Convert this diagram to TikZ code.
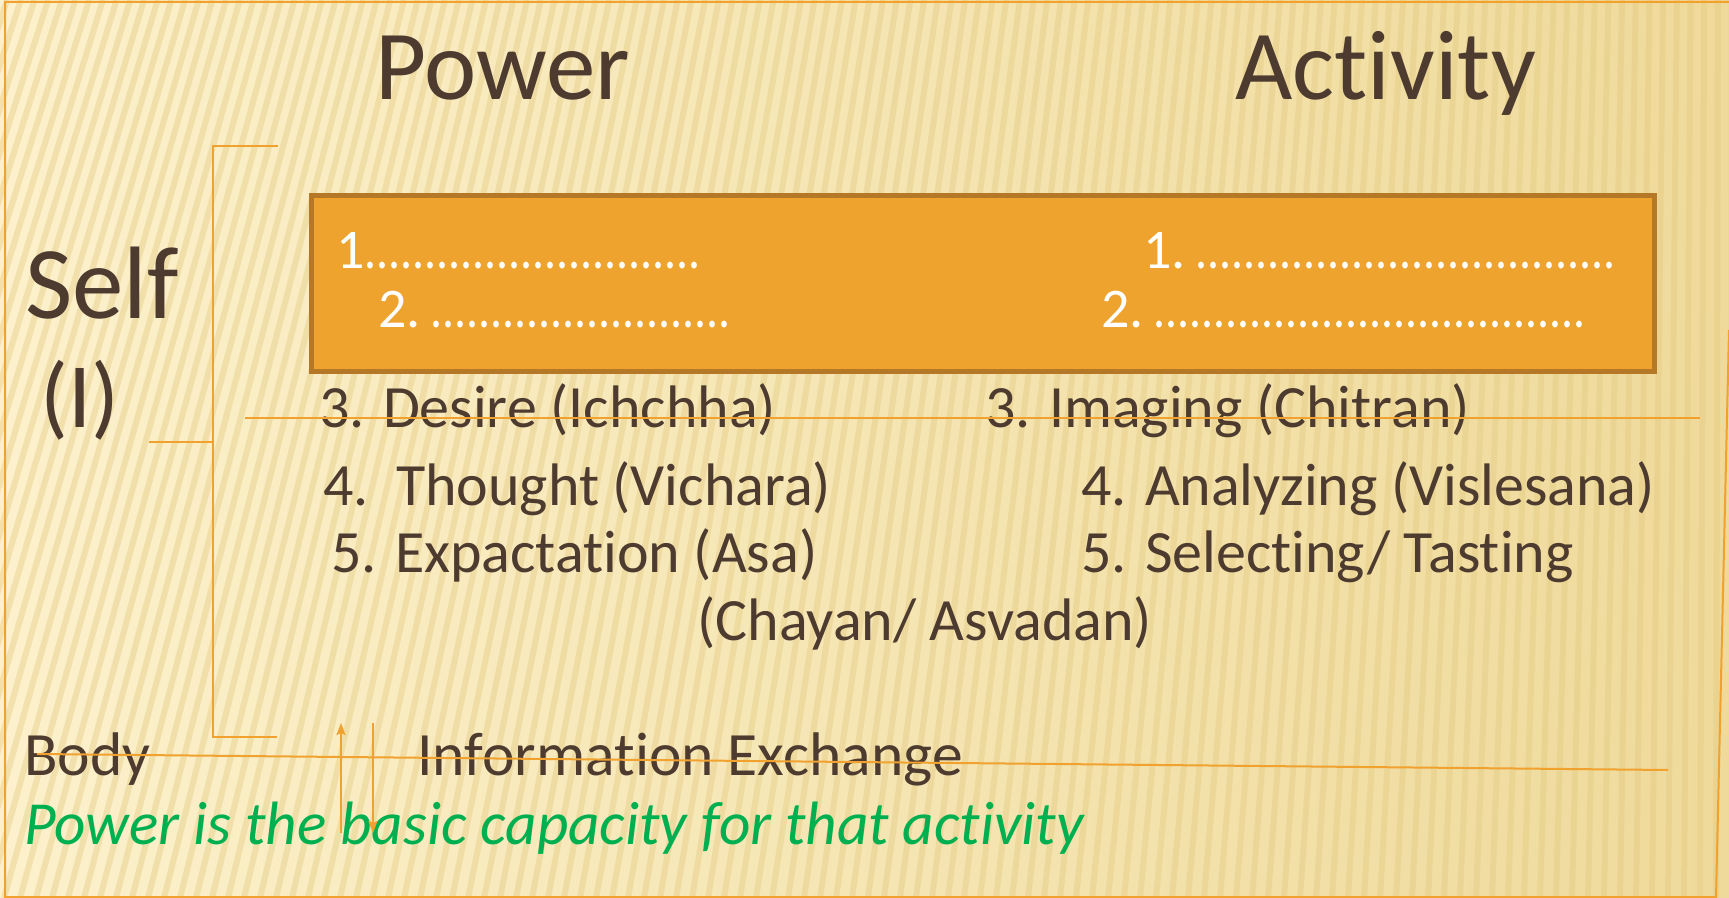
\documentclass[tikz,border=0pt]{standalone}
\usepackage{fontspec}
\usepackage{graphicx}
\setmainfont{Carlito}[Ligatures=NoCommon]
\usetikzlibrary{arrows.meta}
\definecolor{bgl}{HTML}{FCF1CC}
\definecolor{bgr}{HTML}{EFDA9B}
\definecolor{stripec}{HTML}{E3C97F}
\definecolor{frameor}{HTML}{F0A12E}
\definecolor{boxfill}{HTML}{EEA32E}
\definecolor{boxedge}{HTML}{B47826}
\definecolor{txt}{HTML}{4D3B2F}
\definecolor{grn}{HTML}{00B050}
\newcommand\fsz[1]{\fontsize{#1}{#1}\selectfont}
\newcommand\tightdots[1]{\scalebox{0.85}[1]{#1}}
\begin{document}
\begin{tikzpicture}[x=0.5pt,y=-0.5pt,
  lbl/.style={inner sep=0pt, anchor=base west, text=txt},
  title/.style={lbl, font=\fsz{49.5pt}},
  item/.style={lbl, font=\fsz{30pt}},
  lower/.style={lbl, font=\fsz{30.8pt}},
  boxtxt/.style={inner sep=0pt, anchor=base west, text=white, font=\fsz{28pt}},
  orline/.style={draw=frameor, line width=1pt},
  stripe/.style={draw=stripec, line width=3pt, opacity=0.4},
  arrowtip/.style={-{Stealth[length=6pt,width=4.5pt,inset=1pt]}}]
\useasboundingbox (0,0) rectangle (1729,898);
% background
\shade[left color=bgl, right color=bgr] (0,0) rectangle (1729,898);
\begin{scope}
\clip (0,0) rectangle (1729,898);
\foreach \i in {-300,-284,...,1800} \draw[stripe] (\i,898) -- ++({250*(1-\i/1729)},-898);
\end{scope}
% frame
\coordinate (ftl) at (5,2);
\coordinate (ftr) at (1729,2);
\coordinate (fbl) at (5,897);
\coordinate (fbr) at (1716,897);
\coordinate (frt) at (1729,330);
\draw[orline] (ftr) -- (ftl) -- (fbl) -- (fbr) -- (frt);
% titles
\node[title] (power) at (375,100) {Power};
\node[title] (activity) at (1235,100) {Activity};
\node[title, font=\fsz{51.5pt}] (self) at (25,319) {Self};
\node[title, font=\fsz{46pt}] (selfI) at (40,428) {(I)};
% box
\node[draw=boxedge, fill=boxfill, line width=2.5pt, inner sep=0pt,
      minimum width=671.5pt, minimum height=88pt, anchor=north west] (box) at (308.5,193) {};
\node[boxtxt] (b1l) at (336,269) {1\tightdots{............................}};
\node[boxtxt] (b2l) at (378,328) {2.\,\tightdots{.........................}};
\node[boxtxt] (b1r) at (1143,269) {1.\,\tightdots{...................................}};
\node[boxtxt] (b2r) at (1101,328) {2.\,\tightdots{....................................}};
% items
\node[item] (d3) at (319,428) {3. Desire (Ichchha)};
\node[item] (d4) at (323,505) {4.\ \ Thought (Vichara)};
\node[item] (d5) at (331,572) {5. Expactation (Asa)};
\node[item] (i3) at (985,428) {3. Imaging (Chitran)};
\node[item] (i4) at (1081,505) {4. Analyzing (Vislesana)};
\node[item] (i5) at (1081,572) {5. Selecting/ Tasting};
\node[item] (i5b) at (697,640) {(Chayan/ Asvadan)};
% bottom
\node[lower] (body) at (24,775) {Body};
\node[lower] (info) at (417,775) {Information Exchange};
\node[lbl, text=grn, font=\fsz{30.6pt}\itshape] (note) at (24,844) {Power is the basic capacity for that activity};
% bracket
\coordinate (bt1) at (278,146);
\coordinate (bt0) at (213,146);
\coordinate (bb0) at (213,737);
\coordinate (bb1) at (277,737);
\coordinate (bm0) at (149,442);
\coordinate (bm1) at (213,442);
\draw[orline] (bt1) -- (bt0) -- (bb0) -- (bb1);
\draw[orline] (bm0) -- (bm1);
% strike lines
\coordinate (s3a) at (245,418);
\coordinate (s3b) at (1700,418);
\draw[orline] (s3a) -- (s3b);
\coordinate (bla) at (37,754);
\coordinate (blb) at (1668,770);
\draw[orline] (bla) -- (blb);
% arrows
\coordinate (ua0) at (341,833);
\coordinate (ua1) at (341,723);
\coordinate (da0) at (373,723);
\coordinate (da1) at (373,833);
\draw[orline, arrowtip] (ua0) -- (ua1);
\draw[orline, arrowtip] (da0) -- (da1);
\end{tikzpicture}
\end{document}
